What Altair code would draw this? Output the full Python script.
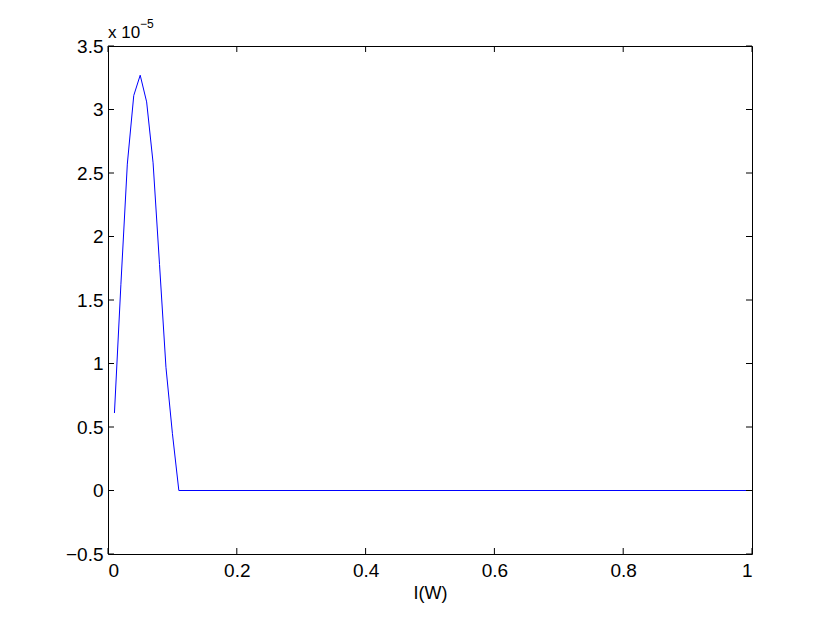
import altair as alt
import pandas as pd

# Data (y in units of 1e-5)
x_vals = [0.01, 0.02, 0.03, 0.04, 0.05, 0.06, 0.07, 0.08, 0.09, 0.10, 0.11, 1.00]
y_vals = [0.61, 1.62, 2.57, 3.11, 3.27, 3.06, 2.58, 1.78, 0.97, 0.45, 0.0, 0.0]
x_ticks = [0, 0.2, 0.4, 0.6, 0.8, 1.0]
y_ticks = [-0.5, 0, 0.5, 1, 1.5, 2, 2.5, 3, 3.5]

W, H = 644, 508
FONT = "Liberation Sans"

df = pd.DataFrame({"x": x_vals, "y": y_vals})
xt = pd.DataFrame({"x": x_ticks})
yt = pd.DataFrame({"y": y_ticks})

xs = alt.Scale(domain=[0, 1], nice=False, zero=False)
ys = alt.Scale(domain=[-0.5, 3.5], nice=False, zero=False)

line = alt.Chart(df).mark_line(color="#0000ff", strokeWidth=1).encode(
    x=alt.X("x:Q", scale=xs, axis=alt.Axis(values=x_ticks, title="I(W)", format="~g",
                                            labelPadding=7, titlePadding=4)),
    y=alt.Y("y:Q", scale=ys, axis=alt.Axis(values=y_ticks, title=None, format="~g",
                                            labelPadding=5)),
)

tick_len = 6
xb = alt.Chart(xt).mark_rule(color="black").encode(
    x=alt.X("x:Q", scale=xs), y=alt.value(H), y2=alt.value(H - tick_len))
xtop = alt.Chart(xt).mark_rule(color="black").encode(
    x=alt.X("x:Q", scale=xs), y=alt.value(0), y2=alt.value(tick_len))
yl = alt.Chart(yt).mark_rule(color="black").encode(
    y=alt.Y("y:Q", scale=ys), x=alt.value(0), x2=alt.value(tick_len))
yr = alt.Chart(yt).mark_rule(color="black").encode(
    y=alt.Y("y:Q", scale=ys), x=alt.value(W), x2=alt.value(W - tick_len))

mult = alt.Chart(pd.DataFrame({"t": ["x 10"]})).mark_text(
    align="left", baseline="alphabetic", font=FONT, fontSize=17, color="black"
).encode(text="t:N", x=alt.value(0), y=alt.value(-8))
expo = alt.Chart(pd.DataFrame({"t": ["\u22125"]})).mark_text(
    align="left", baseline="alphabetic", font=FONT, fontSize=12, color="black"
).encode(text="t:N", x=alt.value(32), y=alt.value(-18))

chart = alt.layer(line, xb, xtop, yl, yr, mult, expo).properties(
    width=W, height=H,
    background="white",
    autosize=alt.AutoSizeParams(type="none"),
    padding={"left": 100, "top": 38, "right": 70, "bottom": 63},
).configure_view(stroke="black", strokeWidth=1).configure_axis(
    labelFont=FONT, labelFontSize=19, labelColor="black",
    titleFont=FONT, titleFontSize=18, titleColor="black", titleFontWeight="normal",
    ticks=False, tickSize=0, domain=False, grid=False,
)

chart.save("out.html", embed_options={"renderer": "svg", "actions": False})
